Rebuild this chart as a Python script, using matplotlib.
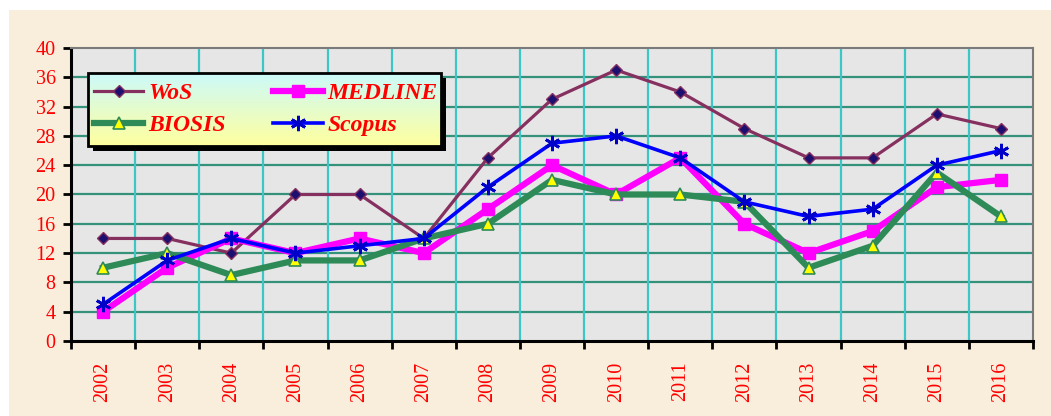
import numpy as np
import matplotlib
matplotlib.use("Agg")
import matplotlib.pyplot as plt
from matplotlib.patches import Rectangle

years = ["2002", "2003", "2004", "2005", "2006", "2007", "2008", "2009",
         "2010", "2011", "2012", "2013", "2014", "2015", "2016"]
wos = [14, 14, 12, 20, 20, 14, 25, 33, 37, 34, 29, 25, 25, 31, 29]
medline = [4, 10, 14, 12, 14, 12, 18, 24, 20, 25, 16, 12, 15, 21, 22]
biosis = [10, 12, 9, 11, 11, 14, 16, 22, 20, 20, 19, 10, 13, 23, 17]
scopus = [5, 11, 14, 12, 13, 14, 21, 27, 28, 25, 19, 17, 18, 24, 26]
yticks = list(range(0, 41, 4))

plt.rcParams['font.family'] = ['Liberation Serif', 'DejaVu Serif']

fig = plt.figure(figsize=(10.51, 4.16), dpi=100)
fig.patch.set_facecolor('white')
# parchment background behind the chart
fig.patches.append(Rectangle((9 / 1051, 0), 1 - 9 / 1051, 1 - 10 / 416,
                             transform=fig.transFigure, facecolor='#f9eedb',
                             edgecolor='none', zorder=-10))

ax = fig.add_axes([71 / 1051, 1 - 341 / 416, 962 / 1051, 293 / 416])
ax.set_zorder(1)
ax.set_facecolor('#e6e6e6')

x = np.arange(len(years)) + 0.5
ax.plot(x, wos, color='#863060', lw=2.3, marker='D', ms=6.5,
        mfc='#1c0f70', mec='#863060', mew=1, zorder=3, label='WoS')
ax.plot(x, medline, color='#ff00ff', lw=4.5, marker='s', ms=8,
        mfc='#ff00ff', mec='#ff00ff', zorder=4, label='MEDLINE')
ax.plot(x, biosis, color='#2e8b57', lw=4.5, marker='^', ms=8,
        mfc='#ffff00', mec='#2e8b57', mew=1.2, zorder=5, label='BIOSIS')
ax.plot(x, scopus, color='#0000ff', lw=2.6, marker=(6, 2, 0), ms=11,
        mec='#0000c8', mew=2, zorder=6, label='Scopus')

# gridlines: horizontal green, vertical cyan at category boundaries
for yv in yticks[1:-1]:
    ax.axhline(yv, color='#34917a', lw=1.6, zorder=1)
for xv in range(1, len(years)):
    ax.axvline(xv, color='#3cc6c6', lw=1.6, zorder=1)

ax.set_yticks(yticks)
ax.set_yticklabels([str(v) for v in yticks], color='#ff0000', fontsize=14.5)
ax.set_xticks(range(len(years) + 1))
ax.set_xticklabels([])
ax.set_xticks(x, minor=True)
ax.set_xticklabels(years, minor=True, rotation=90, color='#ff0000', fontsize=14.5)
ax.tick_params(axis='x', which='major', direction='out', length=6, width=2, color='black')
ax.tick_params(axis='x', which='minor', length=0, pad=15)
ax.tick_params(axis='y', direction='out', length=6, width=2, color='black', pad=5)

for side in ('top', 'right'):
    ax.spines[side].set_color('#7a7a7a')
    ax.spines[side].set_linewidth(1.5)
for side in ('left', 'bottom'):
    ax.spines[side].set_color('black')
    ax.spines[side].set_linewidth(2.2)

# legend box with shadow and cyan-to-yellow gradient
bx0, bx1 = 17 / 962, 370 / 962
by0, by1 = 195 / 293, 268 / 293
ax.add_patch(Rectangle((bx0 + 5 / 962, by0 - 5 / 293), bx1 - bx0, by1 - by0,
                       transform=ax.transAxes, facecolor='black',
                       edgecolor='none', zorder=8))
grad = np.linspace(0, 1, 64).reshape(-1, 1)
top_c = np.array([0.80, 0.98, 0.98])
bot_c = np.array([1.00, 1.00, 0.62])
img = top_c[None, None, :] * (1 - grad[..., None]) + bot_c[None, None, :] * grad[..., None]
ax.imshow(img, extent=(bx0, bx1, by0, by1), transform=ax.transAxes,
          aspect='auto', zorder=9, interpolation='bilinear')
ax.add_patch(Rectangle((bx0, by0), bx1 - bx0, by1 - by0, transform=ax.transAxes,
                       facecolor='none', edgecolor='black', lw=2, zorder=10))
ax.set_xlim(0, len(years))
ax.set_ylim(0, 40)

handles, labels = ax.get_legend_handles_labels()
order = [0, 2, 1, 3]
leg = ax.legend([handles[i] for i in order], [labels[i] for i in order],
                ncol=2, loc='center left',
                bbox_to_anchor=(bx0, (by0 + by1) / 2),
                frameon=False, handlelength=2.1, columnspacing=2.0,
                labelspacing=0.45, handletextpad=0.2, borderpad=0.25,
                borderaxespad=0,
                prop={'family': 'Liberation Serif', 'weight': 'bold',
                      'style': 'italic', 'size': 17})
leg.set_zorder(11)
for t in leg.get_texts():
    t.set_color('#ff0000')

fig.savefig('out.png', dpi=100, facecolor=fig.get_facecolor())
